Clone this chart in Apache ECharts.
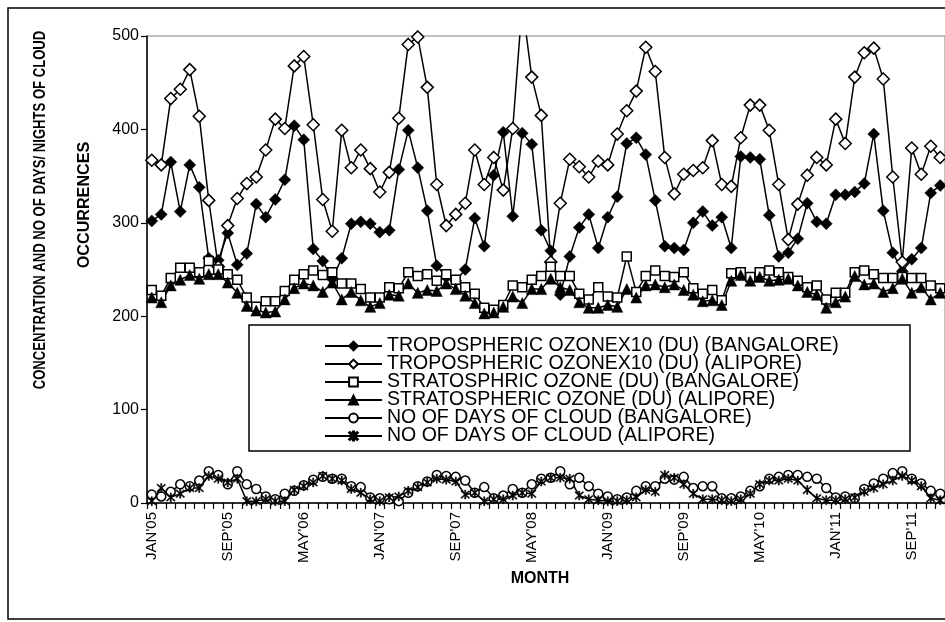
<!DOCTYPE html>
<html>
<head>
<meta charset="utf-8">
<script src="https://cdn.jsdelivr.net/npm/echarts@6/dist/echarts.min.js"></script>
<style>html,body{margin:0;padding:0;background:#fff}#c{width:945px;height:622px}</style>
</head>
<body>
<div id="c"></div>
<script>
const monthNames = ['JAN','FEB','MAR','APR','MAY','JUN','JUL','AUG','SEP','OCT','NOV','DEC'];
const years = ['05','06','07','08','09','10','11'];
const months = [];
years.forEach(y => monthNames.forEach(m => months.push(m + "'" + y)));

const yTicks = [0, 100, 200, 300, 400, 500];

const tropBangalore = [302,309,365,312,362,338,262,260,289,255,267,320,306,325,346,404,389,272,259,240,262,299,301,299,290,292,357,399,359,313,254,242,238,250,305,275,351,397,307,396,384,292,270,223,264,295,309,273,306,328,385,391,373,324,275,273,271,300,312,297,306,273,371,370,368,308,264,268,283,321,301,299,330,330,333,342,395,313,268,248,261,273,332,340];
const tropAlipore = [367,362,433,443,464,414,324,253,297,326,342,349,378,411,401,468,478,405,325,291,399,359,378,358,333,354,412,491,499,445,341,297,309,321,378,341,370,335,401,535,456,415,258,321,368,360,349,366,362,395,420,441,488,462,370,331,352,356,359,388,341,339,391,426,426,399,341,282,320,351,370,362,411,385,456,482,487,454,349,258,380,352,382,370];
const stratBangalore = [228,222,241,252,252,247,259,250,245,239,220,210,216,216,227,239,245,249,244,247,235,235,229,220,220,231,230,247,243,245,238,245,239,231,224,209,207,212,233,231,239,243,253,243,243,224,218,231,221,220,264,226,243,249,243,242,247,230,224,228,217,246,247,242,247,249,247,242,238,231,233,218,225,225,247,249,245,241,241,242,241,241,233,230];
const stratAlipore = [220,215,233,239,244,240,245,245,236,225,211,206,204,205,218,230,235,233,226,236,218,226,217,210,214,223,222,235,225,228,227,235,229,222,214,203,204,210,221,214,229,229,240,231,228,215,209,209,212,210,229,220,233,234,231,234,228,223,216,217,212,238,244,238,242,238,239,240,233,226,223,209,215,221,243,234,235,226,230,240,225,231,218,225];
const cloudBangalore = [9,7,12,20,18,24,34,30,20,34,20,15,7,4,10,13,19,25,28,26,26,18,17,6,5,4,2,11,18,23,30,29,28,24,11,17,5,8,15,11,20,26,27,34,20,27,18,10,7,4,6,13,18,18,26,25,28,16,18,18,5,5,7,13,18,26,28,30,30,28,26,16,6,7,5,15,21,26,32,34,26,21,13,10];
const cloudAlipore = [2,16,6,10,16,16,29,26,22,26,2,2,4,2,2,14,18,22,29,26,24,15,11,4,2,6,7,13,17,22,26,25,23,9,11,2,4,4,8,11,10,23,27,27,26,8,4,3,2,2,3,6,14,12,30,27,20,10,4,4,3,2,4,10,20,24,24,26,24,14,5,3,3,4,6,12,16,20,24,29,24,18,5,3];

const seriesNames = [
  'TROPOSPHERIC OZONEX10 (DU) (BANGALORE)',
  'TROPOSPHERIC OZONEX10 (DU) (ALIPORE)',
  'STRATOSPHRIC OZONE (DU) (BANGALORE)',
  'STRATOSPHERIC OZONE (DU) (ALIPORE)',
  'NO OF DAYS OF CLOUD (BANGALORE)',
  'NO OF DAYS OF CLOUD (ALIPORE)'
];

const asterisk = 'path://M1.42,0.58L9.42,8.58L8.58,9.42L0.58,1.42Z M9.42,1.42L1.42,9.42L0.58,8.58L8.58,0.58Z M4.4,0L5.6,0L5.6,10L4.4,10Z';

function mk(name, data, symbol, size, filled) {
  return {
    name: name, type: 'line', data: data,
    symbol: symbol, symbolSize: size, showSymbol: true, showAllSymbol: true,
    lineStyle: { color: '#000', width: 1.5 },
    itemStyle: { color: filled ? '#000' : '#fff', borderColor: '#000', borderWidth: filled ? 0.5 : 1.5 },
    emphasis: { disabled: true },
    clip: true
  };
}

const chart = echarts.init(document.getElementById('c'), null, { renderer: 'canvas' });
const sans = "'Liberation Sans', Arial, sans-serif";

chart.setOption({
  animation: false,
  backgroundColor: '#fff',
  grid: { left: 147, top: 36, width: 806, height: 467, show: true, borderColor: '#808080', borderWidth: 1, backgroundColor: 'transparent' },
  xAxis: {
    type: 'category', data: months, boundaryGap: true,
    axisLine: { lineStyle: { color: '#000', width: 1.5 } },
    axisTick: { show: true, interval: 0, length: 6, lineStyle: { color: '#000', width: 1.2 } },
    axisLabel: { interval: 7, rotate: 90, margin: 9, color: '#000', fontFamily: sans, fontSize: 15 },
    splitLine: { show: false }
  },
  yAxis: {
    type: 'value', min: yTicks[0], max: yTicks[yTicks.length - 1], interval: 100,
    axisLine: { show: true, lineStyle: { color: '#000', width: 1.5 } },
    axisTick: { show: true, length: 6, lineStyle: { color: '#000', width: 1.2 } },
    axisLabel: { color: '#000', fontFamily: sans, fontSize: 16, margin: 8 },
    splitLine: { show: false }
  },
  legend: {
    orient: 'vertical', left: 324, top: 336, padding: 0,
    itemWidth: 57, itemHeight: 11, itemGap: -2,
    textStyle: { fontFamily: sans, fontSize: 19.5, color: '#000', lineHeight: 18 },
    data: seriesNames
  },
  graphic: [
    { type: 'rect', z: -1, shape: { x: 8, y: 8, width: 1000, height: 611 }, style: { fill: 'none', stroke: '#000', lineWidth: 1.5 } },
    { type: 'rect', z: 3, shape: { x: 249, y: 325, width: 661, height: 126 }, style: { fill: '#fff', stroke: '#000', lineWidth: 1.5 } },
    { type: 'text', x: 40, y: 210, rotation: Math.PI / 2, scaleX: 0.77, style: { text: 'CONCENTRATION AND NO OF DAYS/ NIGHTS OF CLOUD', font: "bold 17px " + sans, fill: '#000', textAlign: 'center', textVerticalAlign: 'middle' } },
    { type: 'text', x: 84, y: 205, rotation: Math.PI / 2, scaleX: 0.95, style: { text: 'OCCURRENCES', font: "bold 17px " + sans, fill: '#000', textAlign: 'center', textVerticalAlign: 'middle' } },
    { type: 'text', x: 540, y: 579, style: { text: 'MONTH', font: "bold 16px " + sans, fill: '#000', textAlign: 'center', textVerticalAlign: 'middle' } }
  ],
  series: [
    mk(seriesNames[0], tropBangalore, 'diamond', 12, true),
    mk(seriesNames[1], tropAlipore, 'diamond', 12, false),
    mk(seriesNames[2], stratBangalore, 'rect', 9, false),
    mk(seriesNames[3], stratAlipore, 'triangle', 11, true),
    mk(seriesNames[4], cloudBangalore, 'circle', 9, false),
    mk(seriesNames[5], cloudAlipore, asterisk, 9, true)
  ]
});
</script>
</body>
</html>
